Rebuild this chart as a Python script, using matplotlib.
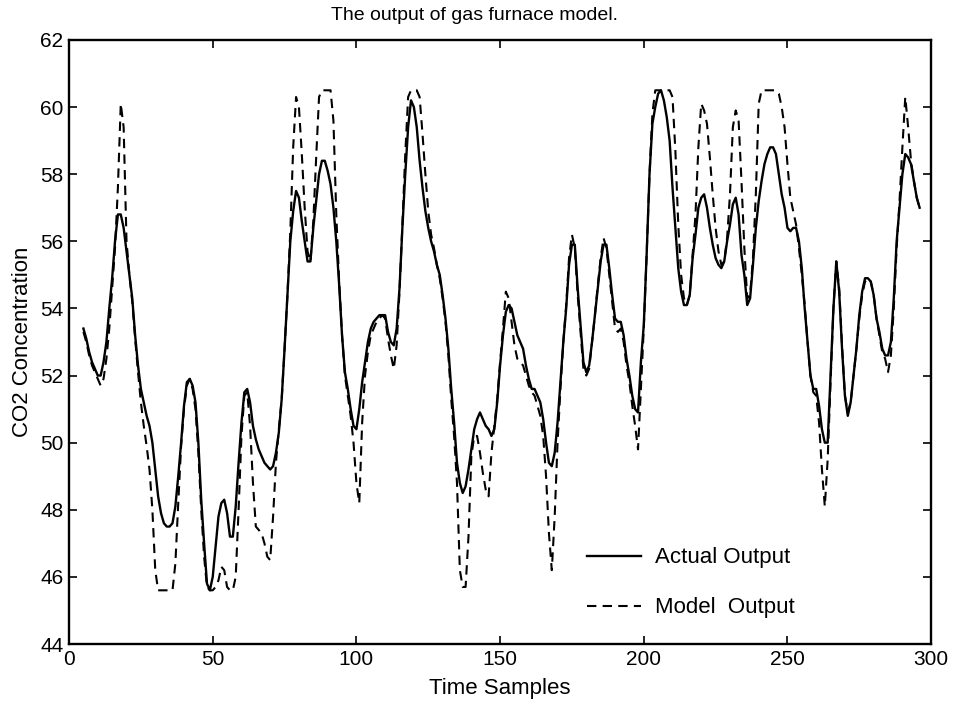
import numpy as np
import matplotlib
matplotlib.use("Agg")
import matplotlib.pyplot as plt

plt.rcParams["font.family"] = ["Liberation Sans", "DejaVu Sans"]

# time samples shown in the plot
t = np.arange(5, 297)

# measured CO2 (actual output), t = 5..296
actual = [
    53.4, 53.1, 52.7, 52.4, 52.2, 52.0,
    52.0, 52.4, 53.0, 54.0, 54.9, 56.0, 56.8, 56.8, 56.4, 55.7,
    55.0, 54.3, 53.2, 52.3, 51.6, 51.2, 50.8, 50.5, 50.0, 49.2,
    48.4, 47.9, 47.6, 47.5, 47.5, 47.6, 48.1, 49.0, 50.0, 51.1,
    51.8, 51.9, 51.7, 51.2, 50.0, 48.3, 47.0, 45.8, 45.6, 46.0,
    46.9, 47.8, 48.2, 48.3, 47.9, 47.2, 47.2, 48.1, 49.4, 50.6,
    51.5, 51.6, 51.2, 50.5, 50.1, 49.8, 49.6, 49.4, 49.3, 49.2,
    49.3, 49.7, 50.3, 51.3, 52.8, 54.4, 56.0, 56.9, 57.5, 57.3,
    56.6, 56.0, 55.4, 55.4, 56.4, 57.2, 58.0, 58.4, 58.4, 58.1,
    57.7, 57.0, 56.0, 54.7, 53.2, 52.1, 51.6, 51.0, 50.5, 50.4,
    51.0, 51.8, 52.4, 53.0, 53.4, 53.6, 53.7, 53.8, 53.8, 53.8,
    53.3, 53.0, 52.9, 53.4, 54.6, 56.4, 58.0, 59.4, 60.2, 60.0,
    59.4, 58.4, 57.6, 56.9, 56.4, 56.0, 55.7, 55.3, 55.0, 54.4,
    53.7, 52.8, 51.6, 50.6, 49.4, 48.8, 48.5, 48.7, 49.2, 49.8,
    50.4, 50.7, 50.9, 50.7, 50.5, 50.4, 50.2, 50.4, 51.2, 52.3,
    53.2, 53.9, 54.1, 54.0, 53.6, 53.2, 53.0, 52.8, 52.3, 51.9,
    51.6, 51.6, 51.4, 51.2, 50.7, 50.0, 49.4, 49.3, 49.7, 50.6,
    51.8, 53.0, 54.0, 55.3, 55.9, 55.9, 54.6, 53.5, 52.4, 52.1,
    52.3, 53.0, 53.8, 54.6, 55.4, 55.9, 55.9, 55.2, 54.4, 53.7,
    53.6, 53.6, 53.2, 52.5, 52.0, 51.4, 51.0, 50.9, 52.4, 53.5,
    55.6, 58.0, 59.5, 60.0, 60.4, 60.5, 60.2, 59.7, 59.0, 57.6,
    56.4, 55.2, 54.5, 54.1, 54.1, 54.4, 55.5, 56.2, 57.0, 57.3,
    57.4, 57.0, 56.4, 55.9, 55.5, 55.3, 55.2, 55.4, 56.0, 56.5,
    57.1, 57.3, 56.8, 55.6, 55.0, 54.1, 54.3, 55.3, 56.4, 57.2,
    57.8, 58.3, 58.6, 58.8, 58.8, 58.6, 58.0, 57.4, 57.0, 56.4,
    56.3, 56.4, 56.4, 56.0, 55.2, 54.0, 53.0, 52.0, 51.6, 51.6,
    51.1, 50.4, 50.0, 50.0, 52.0, 54.0, 55.4, 54.5, 52.8, 51.4,
    50.8, 51.2, 52.0, 52.8, 53.8, 54.5, 54.9, 54.9, 54.8, 54.4,
    53.7, 53.3, 52.8, 52.6, 52.6, 53.0, 54.3, 56.0, 57.0, 58.0,
    58.6, 58.5, 58.3, 57.8, 57.3, 57.0,
]

# model prediction, t = 5..296 (saturates near 45.6 / 60.5)
model = [
    53.3, 53.0, 52.6, 52.3, 52.1, 51.9,
    51.7, 51.9, 52.5, 53.4, 54.6, 55.8, 57.6, 60.1, 59.4, 56.0,
    55.0, 54.2, 53.1, 52.1, 51.2, 50.5, 49.9, 49.2, 48.0, 46.2,
    45.6, 45.6, 45.6, 45.6, 45.6, 45.6, 46.4, 48.2, 49.9, 51.0,
    51.7, 51.9, 51.6, 51.0, 49.7, 48.0, 46.6, 45.7, 45.6, 45.6,
    45.7, 45.9, 46.3, 46.2, 45.7, 45.6, 45.6, 46.0, 48.0, 50.2,
    51.4, 51.5, 50.5, 48.8, 47.5, 47.4, 47.3, 47.0, 46.6, 46.5,
    47.8, 49.4, 50.4, 51.3, 52.8, 54.4, 56.3, 58.8, 60.3, 60.0,
    58.6, 57.0, 55.7, 55.4, 56.6, 58.5, 60.3, 60.5, 60.5, 60.5,
    60.5, 59.6, 56.8, 54.8, 53.2, 52.0, 51.4, 50.8, 50.0, 48.8,
    48.2, 50.6, 52.0, 52.7, 53.2, 53.4, 53.6, 53.7, 53.8, 53.7,
    53.1, 52.6, 52.2, 52.9, 54.5, 56.5, 58.6, 60.3, 60.5, 60.5,
    60.5, 60.3, 59.2, 58.0, 56.9, 56.2, 55.8, 55.3, 54.9, 54.3,
    53.6, 52.6, 51.3, 50.2, 48.8, 46.2, 45.7, 45.7, 47.2, 49.6,
    50.2, 50.2, 49.7, 49.1, 48.6, 48.4, 49.7, 50.5, 51.3, 52.4,
    53.4, 54.5, 54.3, 53.6, 52.9, 52.5, 52.4, 52.3, 52.0, 51.7,
    51.5, 51.4, 51.1, 50.8, 50.2, 49.0, 47.3, 46.2, 47.8, 50.0,
    51.6, 53.0, 54.1, 55.5, 56.2, 55.8, 54.4, 53.3, 52.2, 52.0,
    52.2, 53.0, 53.8, 54.7, 55.5, 56.1, 55.8, 55.0, 54.2, 53.4,
    53.3, 53.4, 53.0, 52.3, 51.8, 51.1, 50.5, 49.8, 51.6, 53.4,
    55.6, 58.0, 59.8, 60.5, 60.5, 60.5, 60.5, 60.5, 60.5, 60.3,
    58.7, 56.5, 55.0, 54.3, 54.1, 54.4, 55.6, 56.8, 58.8, 60.1,
    59.9, 59.5, 58.5, 57.4, 56.4, 55.7, 55.3, 55.4, 56.1, 57.4,
    59.4, 59.9, 59.6, 57.8, 55.8, 54.3, 54.4, 55.5, 57.4, 60.1,
    60.5, 60.5, 60.5, 60.5, 60.5, 60.5, 60.4, 60.0, 59.4, 58.3,
    57.3, 56.9, 56.5, 55.8, 55.0, 54.1, 53.0, 52.0, 51.5, 51.4,
    50.6, 49.2, 48.1, 49.5, 51.8, 54.0, 55.4, 54.6, 52.9, 51.4,
    50.9, 51.2, 52.0, 52.8, 53.7, 54.4, 54.8, 54.9, 54.8, 54.4,
    53.7, 53.2, 52.7, 52.5, 52.1, 52.6, 54.0, 55.8, 57.2, 58.8,
    60.3, 59.4, 58.4, 57.8, 57.3, 57.0,
]

xticks = [0, 50, 100, 150, 200, 250, 300]
yticks = [44, 46, 48, 50, 52, 54, 56, 58, 60, 62]

fig = plt.figure(figsize=(9.55, 7.01), dpi=100)
ax = fig.add_axes([0.0723, 0.0813, 0.9027, 0.8617])

ax.plot(t, actual, color="black", lw=1.7, ls="-", label="Actual Output")
ax.plot(t, model, color="black", lw=1.5, ls=(0, (4.5, 3)), label="Model  Output")

ax.set_xlim(0, 300)
ax.set_ylim(44, 62)
ax.set_xticks(xticks)
ax.set_yticks(yticks)
ax.tick_params(direction="in", length=6, width=1.2, top=True, right=True,
               labelsize=15, pad=4)
for s in ax.spines.values():
    s.set_linewidth(1.7)

# title sits a little left of the axes centre in the original
fig.text(0.497, 0.978, "The output of gas furnace model.", fontsize=14,
         ha="center", va="center")
ax.set_xlabel("Time Samples", fontsize=16, labelpad=7)
ax.set_ylabel("CO2 Concentration", fontsize=16, labelpad=5)

ax.legend(loc="upper left", bbox_to_anchor=(0.578, 0.193), frameon=False,
          handlelength=2.4, labelspacing=1.3, fontsize=16, handletextpad=0.65)

fig.savefig("out.png", dpi=100)
